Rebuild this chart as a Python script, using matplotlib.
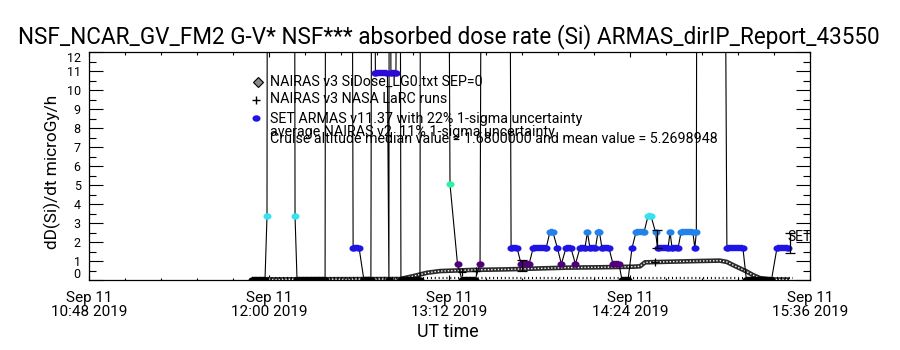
import numpy as np
import matplotlib
matplotlib.use("Agg")
import matplotlib.pyplot as plt
import matplotlib.dates as mdates
from matplotlib.path import Path
from matplotlib.lines import Line2D
from matplotlib.ticker import FixedLocator
from datetime import datetime

plt.rcParams['font.family'] = ['Roboto', 'DejaVu Sans']
plt.rcParams['font.weight'] = 'normal'

# ---------------- text ----------------
TITLE = "NSF_NCAR_GV_FM2 G-V* NSF*** absorbed dose rate (Si) ARMAS_dirIP_Report_43550"
YLABEL = "dD(Si)/dt microGy/h"
XLABEL = "UT time"
LEGEND_TEXT = ["NAIRAS v3 SiDose_LG0.txt SEP=0",
               "NAIRAS v3 NASA LaRC runs",
               "SET ARMAS v11.37 with 22% 1-sigma uncertainty"]
NOTE_TEXT = ["average NAIRAS v2 .11% 1-sigma uncertainty",
             "Cruise altitude median value = 1.6800000 and mean value = 5.2698948"]

# ---------------- axes ----------------
T0 = datetime(2019, 9, 11, 10, 48)          # left edge of the time axis
major_tick_min = [0, 72, 144, 216, 288]      # minutes after T0
major_tick_labels = ["Sep 11\n10:48 2019", "Sep 11\n12:00 2019", "Sep 11\n13:12 2019",
                     "Sep 11\n14:24 2019", "Sep 11\n15:36 2019"]
y_ticks = list(range(13))

# ---------------- data (minutes after 10:48 UT) ----------------
armas_min = [65.1, 70.3, 71.1, 71.4, 81.9, 82.3, 83.1,
             94.3, 94.7, 104.7, 105.5, 107.9, 109.8,
             112.6, 113.2, 114.4, 119.2, 119.8, 120.0, 120.6, 122.6, 124.0, 124.6,
             132.2, 132.6, 143.0, 144.2, 147.2, 149.0, 154.2, 156.2, 157.2,
             167.6, 168.6, 171.0, 172.6, 175.8, 177.4, 182.6, 184.1, 185.3, 187.1, 188.7, 190.5, 192.5, 194.3,
             196.1, 198.1, 199.1, 200.1, 202.3, 203.3, 203.9, 204.9, 207.7, 209.3, 211.7, 212.9, 215.3,
             216.9, 218.5, 221.7, 223.3, 224.5, 226.3, 227.1, 231.3, 232.1, 232.9, 235.3, 236.5, 241.2, 242.0, 242.6, 243.0,
             253.2, 254.8, 261.2, 262.6, 272.6, 274.8, 279.2]
armas_val = [0, 0, 3.36, 40, 40, 3.36, 0,
             0, 40, 40, 1.68, 1.68, 0,
             0, 40, 10.92, 10.92, 0, 40, 10.92, 10.92, 40, 0,
             0, 40, 40, 5.04, 0.84, 0, 0, 0.84, 40,
             40, 1.68, 1.68, 0.84, 0.84, 1.68, 1.68, 2.52, 2.52, 1.68, 0.84, 1.68, 1.68, 0.84,
             1.68, 1.68, 2.52, 1.68, 1.68, 2.52, 2.52, 1.68, 1.68, 0.84, 0.84, 0, 0,
             1.68, 2.52, 2.52, 3.36, 3.36, 2.52, 1.68, 1.68, 2.52, 1.68, 1.68, 2.52, 2.52, 1.68, 2.52, 40,
             40, 1.68, 1.68, 0, 0, 1.68, 1.68]

level_vals = [0, 0.84, 1.68, 2.52, 3.36, 5.04, 10.92]
level_colors = ['#000000', '#50007a', '#1e14e6', '#2282ea', '#36e2f0', '#30f0a8', '#2a0ad8']

nairas_min = [65.1, 124.2, 129.4, 135.0, 140.2, 153.4, 167.0, 180.2, 190.9, 204.1, 217.3,
              220.1, 222.1, 230.9, 244.1, 252.0, 254.8, 257.2, 262.8, 265.2, 268.0, 272.0, 280.0]
nairas_val = [0.03, 0.05, 0.2, 0.38, 0.47, 0.53, 0.56, 0.61, 0.65, 0.67, 0.70,
              0.72, 0.93, 0.96, 1.0, 1.02, 0.95, 0.79, 0.44, 0.26, 0.1, 0.03, 0.02]

larc_min = [65.1, 281.2]
larc_val = [0.1, 0.1]
larc_plus_min = [149.0, 154.6, 226.0]
larc_plus_val = [0.44, 0.5, 0.95]

err_min = [172.8, 226.7, 280.0]
err_lo = [0.45, 1.68, 1.4]
err_hi = [1.05, 2.63, 2.5]

set_label_min = 279.1
set_label_val = 2.26

# ---------------- figure ----------------
W, H = 900, 350
fig = plt.figure(figsize=(W / 100, H / 100), dpi=100)
fig.patch.set_facecolor('white')
ax = fig.add_axes([89 / W, 70 / H, 721 / W, 228 / H])

base = mdates.date2num(T0)


def tm(m):
    return base + np.asarray(m, dtype=float) / 1440.0


def fx(px):
    return px / W


def fy(py):
    return 1 - py / H


# ellipse marker (wider than tall)
th = np.linspace(0, 2 * np.pi, 41)
ell = Path(np.c_[np.cos(th), 0.8 * np.sin(th)], closed=True)
MS = 5.8       # points -> ~8 px wide
BAR_LW = 4.6   # points -> ~6.4 px tall

# NAIRAS SiDose band (checkered)
ax.plot(tm(nairas_min), nairas_val, color='#2a2a2a', lw=3.3,
        solid_capstyle='butt', zorder=2)
ax.plot(tm(nairas_min), nairas_val, color='white', lw=1.0,
        linestyle=(0, (1.0, 1.4)), zorder=2)

# NASA LaRC runs along the bottom
ax.plot(tm(larc_min), larc_val, color='black', lw=1.6,
        linestyle=(0, (0.45, 1.3)), zorder=2)
ax.plot(tm(larc_plus_min), larc_plus_val, linestyle='none', marker='+',
        ms=6, mew=0.9, color='black', zorder=6)

# ARMAS black connecting line
tA = tm(armas_min)
ax.plot(tA, armas_val, color='black', lw=0.8, zorder=3)


def colour_of(v):
    for lv, c in zip(level_vals, level_colors):
        if abs(v - lv) < 1e-6:
            return c
    return 'black'


# runs of equal values -> bars
for i in range(len(armas_val) - 1):
    v = armas_val[i]
    if v <= 12 and abs(armas_val[i + 1] - v) < 1e-6:
        ax.plot(tA[i:i + 2], [v, v], color=colour_of(v), lw=BAR_LW,
                solid_capstyle='butt', zorder=4)
for t, v in zip(tA, armas_val):
    if v <= 12:
        ax.plot([t], [v], linestyle='none', marker=ell, ms=MS, mew=0,
                color=colour_of(v), zorder=5)

# error bars
mid = [(a + b) / 2 for a, b in zip(err_lo, err_hi)]
half = [(b - a) / 2 for a, b in zip(err_lo, err_hi)]
ax.errorbar(tm(err_min), mid, yerr=half, fmt='none', ecolor='black',
            elinewidth=0.9, capsize=3.5, capthick=0.9, zorder=7)
ax.text(tm(set_label_min), set_label_val, "SET", ha='left', va='center',
        fontsize=10, zorder=8)

# axes limits/ticks
ax.set_xlim(tm(0), tm(288))
ax.set_ylim(0, 12)
ax.set_xticks(tm(major_tick_min))
ax.set_xticklabels(major_tick_labels, fontsize=11, linespacing=1.0)
ax.xaxis.set_minor_locator(FixedLocator(tm(np.arange(0, 288.1, 14.4))))
ax.set_yticks(y_ticks)
ax.set_yticklabels([str(v) if v not in (0, 12) else '' for v in y_ticks], fontsize=9)
ax.yaxis.set_minor_locator(FixedLocator(np.arange(0, 12.01, 0.5)))
ax.tick_params(axis='y', which='major', direction='in', length=10, width=0.8,
               left=True, right=True, pad=6)
ax.tick_params(axis='y', which='minor', direction='in', length=5, width=0.8,
               left=True, right=True)
ax.tick_params(axis='x', which='major', direction='in', length=3.3, width=0.8,
               top=True, bottom=True, pad=8)
ax.tick_params(axis='x', which='minor', direction='in', length=1.8, width=0.8,
               top=True, bottom=True)
for s in ax.spines.values():
    s.set_linewidth(0.9)

# end labels of the y axis sit inside the range
ax.annotate('0', xy=(0, 0), xycoords=('axes fraction', 'data'), xytext=(-6, -0.5),
            textcoords='offset points', ha='right', va='bottom', fontsize=9)
ax.annotate('12', xy=(0, 12), xycoords=('axes fraction', 'data'), xytext=(-6, 0),
            textcoords='offset points', ha='right', va='top', fontsize=9)

# titles / labels
t_title = fig.text(fx(449), fy(37), TITLE, ha='center', va='center', fontsize=13)
t_ylab = fig.text(fx(52), fy(172), YLABEL, ha='center', va='center', rotation=90, fontsize=10)
t_xlab = fig.text(fx(448), fy(332), XLABEL, ha='center', va='center', fontsize=10.5)

# legend
LEG_FS = 10.3
leg_y = [86, 103, 123]
legend_texts = []
for s, yb in zip(LEGEND_TEXT, leg_y):
    legend_texts.append(fig.text(fx(270), fy(yb), s, ha='left', va='baseline', fontsize=LEG_FS))
note_y = [136, 143]
for s, yb in zip(NOTE_TEXT, note_y):
    legend_texts.append(fig.text(fx(270), fy(yb), s, ha='left', va='baseline', fontsize=LEG_FS))

fig.add_artist(Line2D([fx(258)], [fy(82)], marker='D', ms=5, mfc='#888888', mec='black',
                      mew=0.8, linestyle='none', transform=fig.transFigure))
fig.add_artist(Line2D([fx(256)], [fy(100)], marker='+', ms=6, mew=1.0, color='black',
                      linestyle='none', transform=fig.transFigure))
fig.add_artist(Line2D([fx(256)], [fy(118)], marker=ell, ms=MS, mew=0, color='#1e14e6',
                      linestyle='none', transform=fig.transFigure))

# fit text widths to the reference layout
fig.canvas.draw()
r = fig.canvas.get_renderer()


def fit(txt, target, use_height=False):
    bb = txt.get_window_extent(r)
    cur = bb.height if use_height else bb.width
    txt.set_fontsize(txt.get_fontsize() * target / cur)


fit(t_title, 862)
fit(t_ylab, 155, use_height=True)
fit(t_xlab, 62)

fig.savefig('out.png', dpi=100, facecolor='white')
